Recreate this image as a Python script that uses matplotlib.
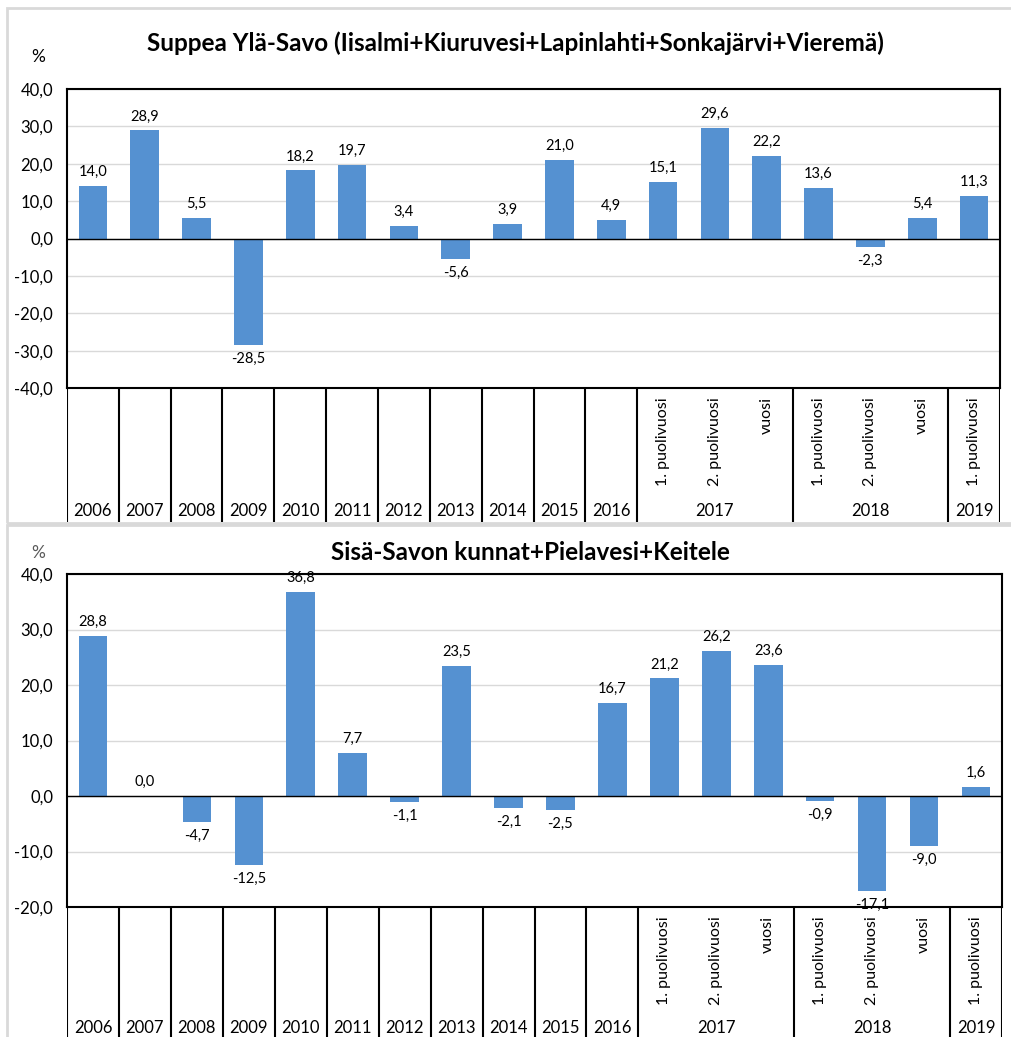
import matplotlib.pyplot as plt
from matplotlib.patches import Rectangle

plt.rcParams['font.family'] = ['Lato', 'DejaVu Sans']

# categories of the bottom table
years_single = ['2006', '2007', '2008', '2009', '2010', '2011', '2012',
                '2013', '2014', '2015', '2016']
half_labels = ['1. puolivuosi', '2. puolivuosi', 'vuosi',
               '1. puolivuosi', '2. puolivuosi', 'vuosi',
               '1. puolivuosi']
group_years = ['2017', '2018', '2019']
group_sizes = [3, 3, 1]

# values (%)
yla_savo = [14.0, 28.9, 5.5, -28.5, 18.2, 19.7, 3.4, -5.6, 3.9, 21.0, 4.9,
            15.1, 29.6, 22.2, 13.6, -2.3, 5.4, 11.3]
sisa_savo = [28.8, 0.0, -4.7, -12.5, 36.8, 7.7, -1.1, 23.5, -2.1, -2.5, 16.7,
             21.2, 26.2, 23.6, -0.9, -17.1, -9.0, 1.6]

title1 = 'Suppea Ylä-Savo (Iisalmi+Kiuruvesi+Lapinlahti+Sonkajärvi+Vieremä)'
title2 = 'Sisä-Savon kunnat+Pielavesi+Keitele'

W, H = 1011, 1037
bar_color = '#5591D1'
n = len(yla_savo)


def fmt(v):
    return ('%.1f' % v).replace('.', ',')


def px_axes(fig, left, top, right, bottom):
    return fig.add_axes([left / W, 1 - bottom / H, (right - left) / W, (bottom - top) / H])


def draw_panel(fig, vals, ylim, step, box, table_bottom, year_y, title, title_xy, pct_xy, pct_color):
    left, top, right, bottom = box
    ax = px_axes(fig, left, top, right, bottom)
    x = list(range(n))
    ax.bar(x, vals, width=0.55, color=bar_color, zorder=3)
    ax.set_xlim(-0.5, n - 0.5)
    ax.set_ylim(*ylim)
    ticks = []
    t = ylim[0]
    while t <= ylim[1] + 1e-9:
        ticks.append(t)
        t += step
    ax.set_yticks(ticks)
    ax.set_yticklabels([fmt(t) for t in ticks], fontsize=12)
    ax.tick_params(axis='y', length=0, pad=10)
    ax.set_xticks([])
    ax.grid(axis='y', color='#D9D9D9', linewidth=1, zorder=0)
    ax.axhline(0, color='black', linewidth=1, zorder=4)
    for s in ax.spines.values():
        s.set_linewidth(1.5)
        s.set_color('black')
    for xi, v in zip(x, vals):
        if v >= 0:
            ax.annotate(fmt(v), (xi, v), xytext=(0, 5), textcoords='offset points',
                        ha='center', va='bottom', fontsize=10.5)
        else:
            ax.annotate(fmt(v), (xi, v), xytext=(0, -5), textcoords='offset points',
                        ha='center', va='top', fontsize=10.5)

    # category table
    tb = px_axes(fig, left, bottom, right, table_bottom)
    tb.set_xlim(-0.5, n - 0.5)
    tb.set_ylim(0, 1)
    tb.axis('off')
    bounds = list(range(len(years_single) + 1))
    pos = len(years_single)
    for g in group_sizes:
        pos += g
        bounds.append(pos)
    for b in bounds:
        tb.axvline(b - 0.5, color='black', linewidth=1.5)
    for i, y in enumerate(years_single):
        tb.text(i, year_y, y, ha='center', va='bottom', fontsize=12)
    start = len(years_single)
    for g, y in zip(group_sizes, group_years):
        tb.text(start + (g - 1) / 2, year_y, y, ha='center', va='bottom', fontsize=12)
        start += g
    for i, lab in enumerate(half_labels):
        tb.text(len(years_single) + i, 0.93, lab,
                rotation=90, ha='center', va='top', fontsize=11.5)

    fig.text(title_xy[0] / W, 1 - title_xy[1] / H, title, ha='center', va='center',
             fontsize=17.5, fontweight='bold')
    fig.text(pct_xy[0] / W, 1 - pct_xy[1] / H, '%', ha='center', va='center',
             fontsize=12.5, color=pct_color)


fig = plt.figure(figsize=(W / 100, H / 100), dpi=100)

# grey panel frames
fig.patches.append(Rectangle((7 / W, 1 - 523 / H), 1.2, 515 / H, transform=fig.transFigure,
                             fill=False, edgecolor='#D9D9D9', linewidth=2))
fig.patches.append(Rectangle((7 / W, -0.1), 1.2, (0.1 + 1 - 525 / H), transform=fig.transFigure,
                             fill=False, edgecolor='#D9D9D9', linewidth=2))

draw_panel(fig, yla_savo, (-40, 40), 10, (67, 89, 1000, 388), 522, 0.025,
           title1, (515, 43), (38, 57), 'black')
draw_panel(fig, sisa_savo, (-20, 40), 10, (67, 574, 1002, 907), 1037, 0.01,
           title2, (530, 553), (38, 553), '#595959')

fig.savefig('out.png', dpi=100)
